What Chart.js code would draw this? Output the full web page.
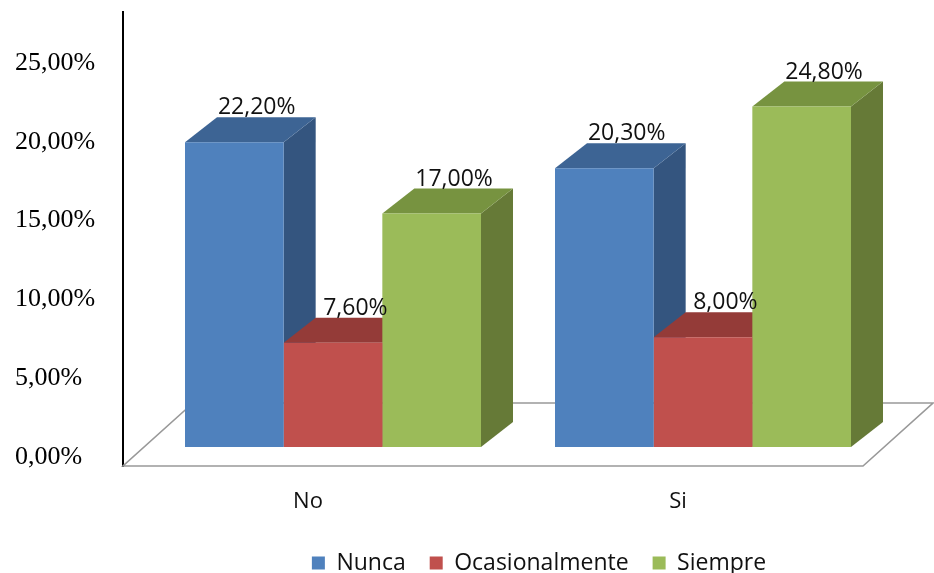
<!DOCTYPE html>
<html lang="es">
<head>
  <meta charset="utf-8">
  <title>Nunca / Ocasionalmente / Siempre</title>
  <script src="https://cdn.jsdelivr.net/npm/chart.js"></script>
  <style>
    html, body { margin: 0; background: #fff; }
    #wrap { width: 934px; height: 573px; }
  </style>
</head>
<body>
  <div id="wrap"><canvas id="chart"></canvas></div>

  <script>
    const categories = ['No', 'Si'];
    const nunca = [22.2, 20.3];
    const ocasionalmente = [7.6, 8.0];
    const siempre = [17.0, 24.8];
    const yTicks = [0, 5, 10, 15, 20, 25];

    const faces = [
      { front: '#4F81BD', side: '#34557F', top: '#3D6494' },
      { front: '#C0504D', side: '#8A3633', top: '#943B38' },
      { front: '#9BBB59', side: '#667A37', top: '#779340' }
    ];

    // offsets used to fake the 3D look
    const barInset = { x: 25, y: -19 };   // fronts sit a little behind the floor edge
    const barDepth = { x: 32, y: -25 };
    const floorDepth = { x: 70, y: -63 };
    const legendShift = 100;

    const sans = 'Open Sans';
    const pct = v => v.toFixed(2).replace('.', ',') + '%';

    function poly(ctx, pts, color) {
      ctx.beginPath();
      ctx.moveTo(pts[0][0], pts[0][1]);
      pts.slice(1).forEach(p => ctx.lineTo(p[0], p[1]));
      ctx.closePath();
      ctx.fillStyle = color;
      ctx.fill();
    }

    const bars3d = {
      id: 'bars3d',
      afterLayout(chart) {
        // legend sits right of centre
        chart.legend.left += legendShift;
        chart.legend.right += legendShift;
      },
      beforeDatasetsDraw(chart) {
        const ctx = chart.ctx;
        const { left, right, bottom } = chart.chartArea;

        // floor
        ctx.save();
        ctx.beginPath();
        ctx.moveTo(left, bottom);
        ctx.lineTo(right, bottom);
        ctx.lineTo(right + floorDepth.x, bottom + floorDepth.y);
        ctx.lineTo(left + floorDepth.x, bottom + floorDepth.y);
        ctx.closePath();
        ctx.fillStyle = '#fff';
        ctx.fill();
        ctx.strokeStyle = '#999';
        ctx.lineWidth = 1.6;
        ctx.stroke();

        // side + top faces, left to right so the next front covers them
        categories.forEach((_, i) => {
          chart.data.datasets.forEach((ds, d) => {
            const bar = chart.getDatasetMeta(d).data[i];
            const half = bar.width / 2;
            const x0 = bar.x - half + barInset.x;
            const x1 = bar.x + half + barInset.x;
            const yt = bar.y + barInset.y;
            const yb = bar.base + barInset.y;
            const dx = barDepth.x, dy = barDepth.y;
            poly(ctx, [[x1, yt], [x1 + dx, yt + dy], [x1 + dx, yb + dy], [x1, yb]], faces[d].side);
            poly(ctx, [[x0, yt], [x1, yt], [x1 + dx, yt + dy], [x0 + dx, yt + dy]], faces[d].top);
          });
        });
        ctx.restore();

        // front faces get drawn by chart.js, shifted back into the floor
        ctx.save();
        ctx.translate(barInset.x, barInset.y);
      },
      afterDatasetsDraw(chart) {
        const ctx = chart.ctx;
        ctx.restore();

        ctx.save();
        ctx.font = `23px "${sans}"`;
        ctx.fillStyle = '#111';
        ctx.textAlign = 'center';
        ctx.textBaseline = 'alphabetic';
        chart.data.datasets.forEach((ds, d) => {
          chart.getDatasetMeta(d).data.forEach((bar, i) => {
            const x = bar.x + barInset.x + barDepth.x * 0.7;
            const y = bar.y + barInset.y + barDepth.y - 3;
            ctx.fillText(pct(ds.data[i]), x, y);
          });
        });
        ctx.restore();
      }
    };

    new Chart(document.getElementById('chart'), {
      type: 'bar',
      data: {
        labels: categories,
        datasets: [
          { label: 'Nunca', data: nunca, backgroundColor: faces[0].front },
          { label: 'Ocasionalmente', data: ocasionalmente, backgroundColor: faces[1].front },
          { label: 'Siempre', data: siempre, backgroundColor: faces[2].front }
        ].map(ds => Object.assign(ds, {
          yAxisID: 'yb',
          borderWidth: 0,
          categoryPercentage: 0.8,
          barPercentage: 1.0
        }))
      },
      options: {
        responsive: true,
        maintainAspectRatio: false,
        animation: false,
        layout: { padding: { left: 15, right: 71, top: 12, bottom: -11.5 } },
        plugins: {
          tooltip: { enabled: false },
          legend: {
            position: 'bottom',
            labels: {
              boxWidth: 13,
              boxHeight: 13,
              padding: 24,
              color: '#111',
              font: { family: sans, size: 23 }
            }
          }
        },
        scales: {
          x: {
            offset: true,
            grid: { display: false },
            border: { display: false },
            ticks: { color: '#111', padding: 15, font: { family: sans, size: 22 } },
            afterFit: s => {
              s.height = 61.5;
              s.paddingLeft = s.paddingRight = 0;
            }
          },
          y: {
            position: 'left',
            min: -0.585,
            max: 28.255,
            afterBuildTicks: s => { s.ticks = yTicks.map(v => ({ value: v })); },
            afterFit: s => {
              s.width = 108;
              s.paddingTop = s.paddingBottom = 0;
            },
            grid: { display: false, drawTicks: false },
            border: { display: true, color: '#000', width: 2 },
            ticks: {
              crossAlign: 'far',
              color: '#000',
              font: { family: 'Liberation Serif', size: 26 },
              callback: v => pct(v)
            }
          },
          // front-face scale for the bars (not shown)
          yb: {
            display: false,
            min: 0,
            max: 33.07
          }
        }
      },
      plugins: [bars3d]
    });
  </script>
</body>
</html>
